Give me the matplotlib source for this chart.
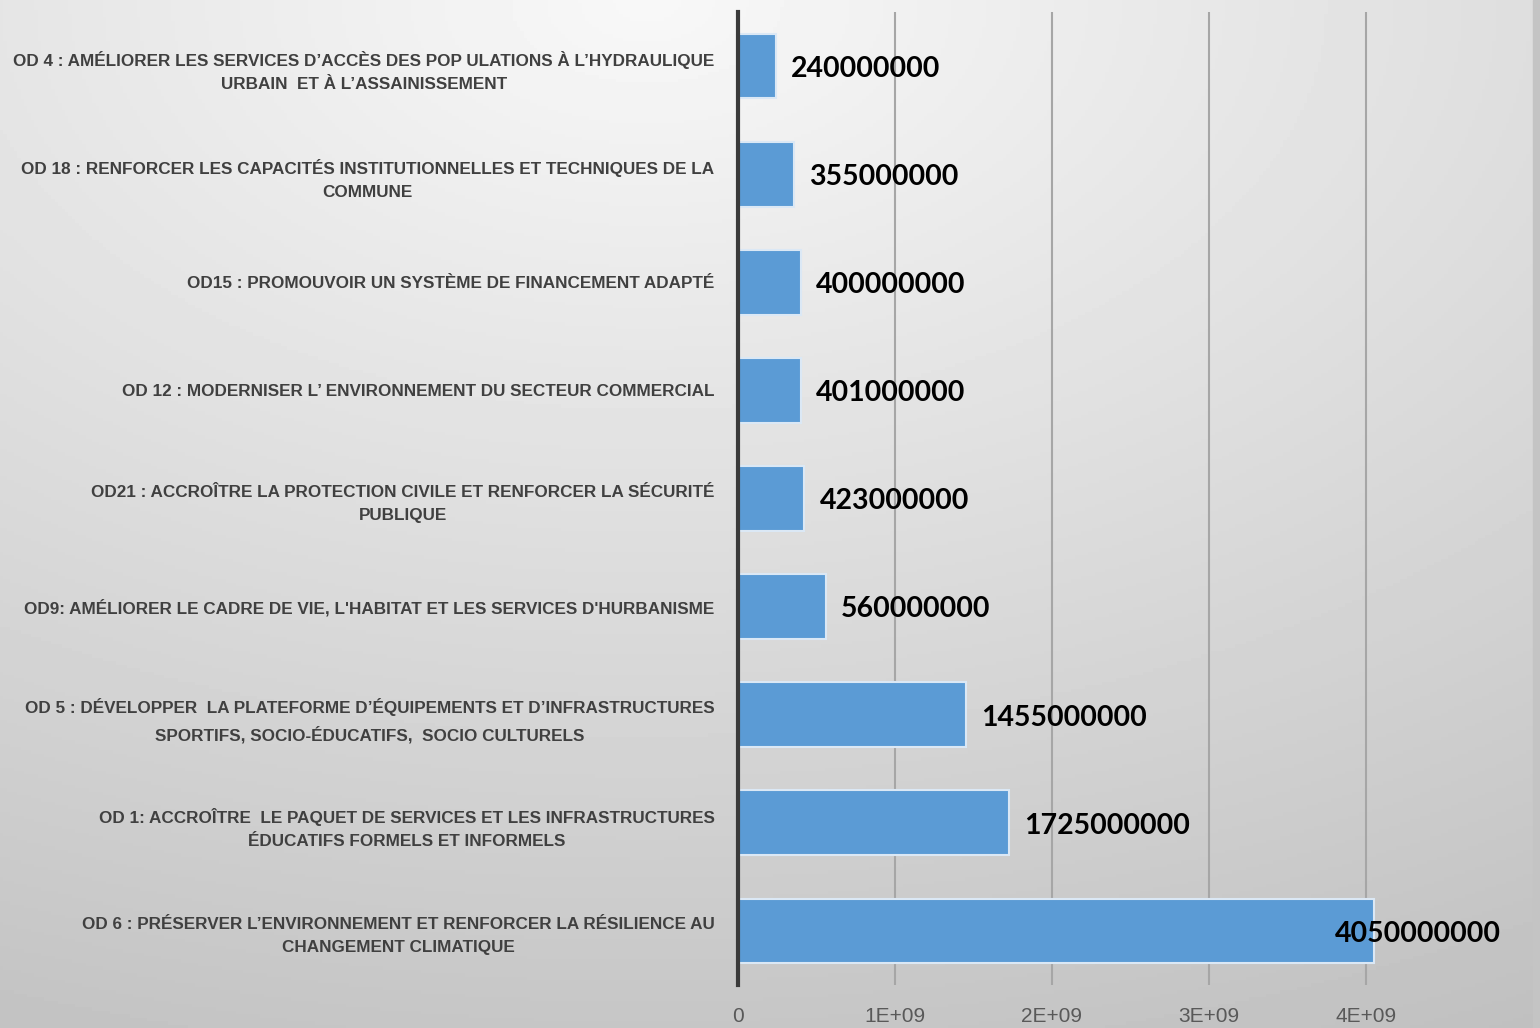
import numpy as np
import matplotlib.pyplot as plt
from matplotlib.patches import Rectangle
from matplotlib.ticker import FixedLocator, FuncFormatter

# data (top to bottom as shown)
labels = [
    "OD 4 : AMÉLIORER LES SERVICES D’ACCÈS DES POP ULATIONS À L’HYDRAULIQUE\nURBAIN  ET À L’ASSAINISSEMENT",
    "OD 18 : RENFORCER LES CAPACITÉS INSTITUTIONNELLES ET TECHNIQUES DE LA\nCOMMUNE",
    "OD15 : PROMOUVOIR UN SYSTÈME DE FINANCEMENT ADAPTÉ",
    "OD 12 : MODERNISER L’ ENVIRONNEMENT DU SECTEUR COMMERCIAL",
    "OD21 : ACCROÎTRE LA PROTECTION CIVILE ET RENFORCER LA SÉCURITÉ\nPUBLIQUE",
    "OD9: AMÉLIORER LE CADRE DE VIE, L'HABITAT ET LES SERVICES D'HURBANISME",
    "OD 5 : DÉVELOPPER  LA PLATEFORME D’ÉQUIPEMENTS ET D’INFRASTRUCTURES\nSPORTIFS, SOCIO-ÉDUCATIFS,  SOCIO CULTURELS",
    "OD 1: ACCROÎTRE  LE PAQUET DE SERVICES ET LES INFRASTRUCTURES\nÉDUCATIFS FORMELS ET INFORMELS",
    "OD 6 : PRÉSERVER L’ENVIRONNEMENT ET RENFORCER LA RÉSILIENCE AU\nCHANGEMENT CLIMATIQUE",
]
values = [240000000, 355000000, 400000000, 401000000, 423000000,
          560000000, 1455000000, 1725000000, 4050000000]
x_ticks = [0, 1e9, 2e9, 3e9, 4e9]

label_font = "Liberation Sans"

fig = plt.figure(figsize=(15.4, 10.28), dpi=100)

# background gradient (light at top centre, greyer towards the bottom corners)
bg = fig.add_axes([0, 0, 1, 1], zorder=-10)
yy, xx = np.mgrid[0:1:300j, 0:1:450j]   # row 0 = top of the figure
r = np.sqrt(((xx - 0.42) * 0.9) ** 2 + yy ** 2)
shade = np.clip(248 - 50 * r, 0, 255) / 255
bg.imshow(shade, cmap="gray", vmin=0, vmax=1, aspect="auto",
          extent=[0, 1, 0, 1], origin="upper")
bg.add_patch(Rectangle((1533 / 1540, 0), 7 / 1540, 1, color="#c4c4c4"))
bg.set_xlim(0, 1)
bg.set_ylim(0, 1)
bg.axis("off")

ax = fig.add_axes([738 / 1540, 1 - 985 / 1028, (1444.5 - 738) / 1540, (985 - 12) / 1028])
ax.patch.set_alpha(0)

y = np.arange(len(values))
ax.barh(y, values, height=0.6, color="#5b9bd5", edgecolor="#dbe8f5", linewidth=1.5, zorder=3)
ax.set_ylim(len(values) - 0.5, -0.5)
ax.set_xlim(0, 4.5e9)

ax.xaxis.set_major_locator(FixedLocator(x_ticks))
ax.xaxis.set_major_formatter(FuncFormatter(lambda v, p: "0" if v == 0 else f"{int(v / 1e9)}E+09"))
ax.grid(axis="x", color="#a6a6a6", linewidth=1.5, zorder=0)
ax.tick_params(axis="x", length=0, pad=16, labelsize=15, labelcolor="#595959")
for t in ax.get_xticklabels():
    t.set_fontfamily(label_font)

ax.set_yticks(y)
ax.set_yticklabels(labels, multialignment="center", fontsize=12.3, fontweight="bold",
                   color="#404040", family=label_font, linespacing=1.65)
ax.tick_params(axis="y", length=0, pad=17)

for s in ["top", "right", "bottom"]:
    ax.spines[s].set_visible(False)
ax.spines["left"].set_color("#3a3a3a")
ax.spines["left"].set_linewidth(3)
ax.spines["left"].set_zorder(4)

vmax = max(values)
for yi, v in zip(y, values):
    off = -39 if v == vmax else 15
    ax.annotate(str(v), xy=(v, yi), xytext=(off * 0.72, -2), textcoords="offset points",
                ha="left", va="center", fontsize=20.5, fontweight="bold", color="black",
                family="Lato", zorder=5)

fig.savefig("out.png", dpi=100)
